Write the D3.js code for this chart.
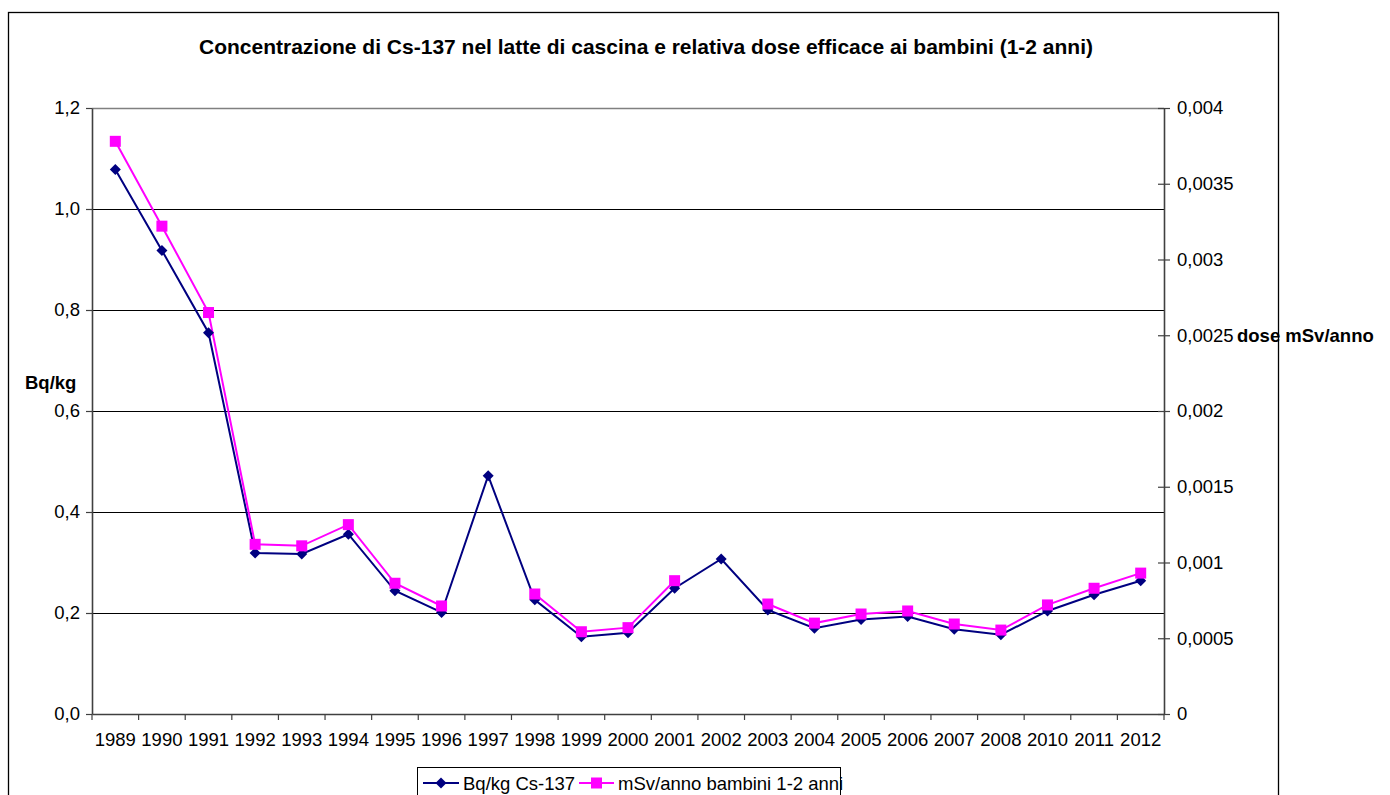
<!DOCTYPE html>
<html>
<head>
<meta charset="utf-8">
<script src="https://cdn.jsdelivr.net/npm/d3@7"></script>
<style>
  html, body { margin: 0; padding: 0; background: #fff; }
  svg { display: block; font-family: "Liberation Sans", Arial, sans-serif; }
</style>
</head>
<body>
<svg id="chart" width="1390" height="795"></svg>
<script>
// Years sampled (2009 not available)
const years = ["1989","1990","1991","1992","1993","1994","1995","1996","1997","1998",
  "1999","2000","2001","2002","2003","2004","2005","2006","2007","2008","2010","2011","2012"];

// Cs-137 concentration in farm milk, Bq/kg
const bqKg = [1.078, 0.918, 0.755, 0.319, 0.317, 0.356, 0.244, 0.201, 0.472, 0.226,
  0.153, 0.161, 0.249, 0.307, 0.206, 0.170, 0.187, 0.193, 0.168, 0.157, 0.204, 0.236, 0.264];

// Effective dose to children aged 1-2, mSv/anno (no value for 1997 and 2002)
const doseMSv = [0.00378, 0.00322, 0.00265, 0.00112, 0.00111, 0.00125, 0.000863, 0.000713, null, 0.000792,
  0.000543, 0.00057, 0.00088, null, 0.000726, 0.0006, 0.00066, 0.00068, 0.000594, 0.000554, 0.00072, 0.00083, 0.00093];

const leftTicks = [0, 0.2, 0.4, 0.6, 0.8, 1.0, 1.2];
const rightTicks = [0, 0.0005, 0.001, 0.0015, 0.002, 0.0025, 0.003, 0.0035, 0.004];

const titleText = "Concentrazione di Cs-137 nel latte di cascina e relativa dose efficace ai bambini (1-2 anni)";
const leftLabel = "Bq/kg";
const rightLabel = "dose mSv/anno";
const seriesNames = ["Bq/kg Cs-137", "mSv/anno bambini 1-2 anni"];

const NAVY = "#000080", MAGENTA = "#FF00FF";
const FS = 18.5;

const itLocale = d3.formatLocale({decimal: ",", thousands: ".", grouping: [3], currency: ["", "€"]});
const fmtLeft = itLocale.format(".1f");
const fmtRight = itLocale.format("~g");

const svg = d3.select("#chart");

// Outer chart frame
svg.append("rect")
  .attr("x", 8.5).attr("y", 12.5).attr("width", 1270).attr("height", 800)
  .attr("fill", "#fff").attr("stroke", "#000").attr("stroke-width", 1.3);

const plot = {left: 92, right: 1164, top: 108, bottom: 714};

const x = d3.scaleBand().domain(years).range([plot.left, plot.right]).padding(0);
const yL = d3.scaleLinear().domain([0, 1.2]).range([plot.bottom, plot.top]);
const yR = d3.scaleLinear().domain([0, 0.004]).range([plot.bottom, plot.top]);

// Horizontal gridlines
svg.append("g").selectAll("line").data(leftTicks.filter(d => d > 0 && d < 1.2)).join("line")
  .attr("x1", plot.left).attr("x2", plot.right)
  .attr("y1", d => Math.round(yL(d)) + 0.5).attr("y2", d => Math.round(yL(d)) + 0.5)
  .attr("stroke", "#000").attr("stroke-width", 1.2);

// Plot area top edge
svg.append("line")
  .attr("x1", plot.left).attr("x2", plot.right)
  .attr("y1", yL(1.2) + 0.5).attr("y2", yL(1.2) + 0.5)
  .attr("stroke", "#808080").attr("stroke-width", 1.6);

const styleTicks = g => g.selectAll(".tick text").attr("font-size", FS).attr("fill", "#000")
  .attr("font-family", "Liberation Sans, Arial, sans-serif");

// Left axis
const gL = svg.append("g").attr("transform", `translate(${plot.left},0)`)
  .call(d3.axisLeft(yL).tickValues(leftTicks).tickFormat(fmtLeft).tickSize(6).tickSizeOuter(0).tickPadding(6));
gL.select(".domain").attr("stroke", "#404040").attr("stroke-width", 1.6);
gL.selectAll(".tick line").attr("stroke", "#404040").attr("stroke-width", 1.2);
styleTicks(gL);

// Right axis (ticks cross the axis line)
const gR = svg.append("g").attr("transform", `translate(${plot.right},0)`)
  .call(d3.axisRight(yR).tickValues(rightTicks).tickFormat(fmtRight).tickSize(6).tickSizeOuter(0).tickPadding(7));
gR.select(".domain").attr("stroke", "#404040").attr("stroke-width", 1.6);
gR.selectAll(".tick line").attr("x1", -6).attr("stroke", "#404040").attr("stroke-width", 1.2);
styleTicks(gR);

// Bottom axis: labels centred on categories, ticks at category boundaries
const gB = svg.append("g").attr("transform", `translate(0,${plot.bottom})`)
  .call(d3.axisBottom(x).tickSize(0).tickPadding(19));
gB.select(".domain").attr("stroke", "#404040").attr("stroke-width", 1.6);
styleTicks(gB);
const bounds = years.map(d => x(d)).concat([x(years[years.length - 1]) + x.bandwidth()]);
gB.append("g").selectAll("line").data(bounds).join("line")
  .attr("x1", d => d).attr("x2", d => d).attr("y1", 0).attr("y2", 6)
  .attr("stroke", "#404040").attr("stroke-width", 1.2);

// Title and axis titles
svg.append("text").attr("x", 646).attr("y", 54).attr("text-anchor", "middle")
  .attr("font-size", 21).attr("font-weight", "bold").text(titleText);
svg.append("text").attr("x", 25).attr("y", 389)
  .attr("font-size", FS).attr("font-weight", "bold").text(leftLabel);
svg.append("text").attr("x", 1237).attr("y", yR(0.0025) + 6.5)
  .attr("font-size", FS).attr("font-weight", "bold").text(rightLabel);

const cx = d => x(d) + x.bandwidth() / 2;

// Series 1: Bq/kg
const lineBq = d3.line().x((d, i) => cx(years[i])).y(d => yL(d));
svg.append("path").datum(bqKg).attr("d", lineBq)
  .attr("fill", "none").attr("stroke", NAVY).attr("stroke-width", 2);

// Series 2: mSv/anno (gaps where data are missing)
const lineDose = d3.line().defined(d => d !== null).x((d, i) => cx(years[i])).y(d => yR(d));
svg.append("path").datum(doseMSv).attr("d", lineDose)
  .attr("fill", "none").attr("stroke", MAGENTA).attr("stroke-width", 2);

const diamond = s => `M0,${-s}L${s},0L0,${s}L${-s},0Z`;

svg.append("g").selectAll("path").data(bqKg).join("path")
  .attr("transform", (d, i) => `translate(${cx(years[i])},${yL(d)})`)
  .attr("d", diamond(5.5)).attr("fill", NAVY);

svg.append("g").selectAll("rect").data(doseMSv.map((d, i) => ({d, i})).filter(o => o.d !== null)).join("rect")
  .attr("x", o => cx(years[o.i]) - 5.5).attr("y", o => yR(o.d) - 5.5)
  .attr("width", 11).attr("height", 11).attr("fill", MAGENTA);

// Legend
const lg = svg.append("g");
lg.append("rect").attr("x", 417.5).attr("y", 767.5).attr("width", 423).attr("height", 40)
  .attr("fill", "#fff").attr("stroke", "#000").attr("stroke-width", 1);
const ly = 783;
lg.append("line").attr("x1", 423).attr("x2", 459).attr("y1", ly).attr("y2", ly)
  .attr("stroke", NAVY).attr("stroke-width", 2);
lg.append("path").attr("transform", `translate(441,${ly})`).attr("d", diamond(5.5)).attr("fill", NAVY);
lg.append("text").attr("x", 463).attr("y", ly + 6.5).attr("font-size", FS).text(seriesNames[0]);
lg.append("line").attr("x1", 579).attr("x2", 614).attr("y1", ly).attr("y2", ly)
  .attr("stroke", MAGENTA).attr("stroke-width", 2);
lg.append("rect").attr("x", 591).attr("y", ly - 5.5).attr("width", 11).attr("height", 11).attr("fill", MAGENTA);
lg.append("text").attr("x", 618).attr("y", ly + 6.5).attr("font-size", FS).text(seriesNames[1]);
</script>
</body>
</html>
